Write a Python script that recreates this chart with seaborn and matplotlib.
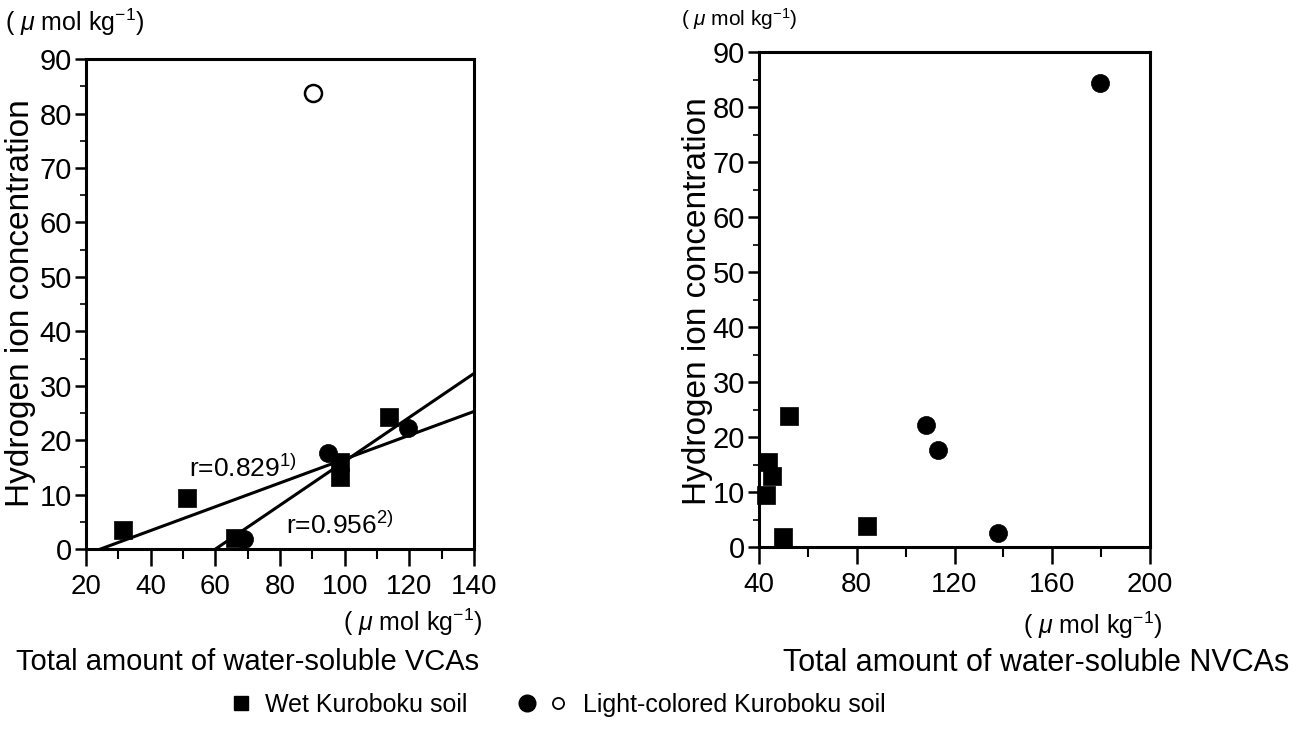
import matplotlib
matplotlib.use("Agg")
import matplotlib.pyplot as plt
from matplotlib.lines import Line2D
from matplotlib.legend_handler import HandlerTuple
import seaborn as sns

# Left panel: total water-soluble volatile carboxylic acids (VCAs)
vca_wet_x = [31.5, 51.2, 66.0, 98.5, 98.7, 113.8]
vca_wet_h = [3.5, 9.4, 2.0, 16.0, 13.3, 24.2]
vca_light_x = [68.8, 94.9, 119.6]
vca_light_h = [1.8, 17.6, 22.2]
vca_outlier_x = [90.2]
vca_outlier_h = [83.7]

# Right panel: total water-soluble non-volatile carboxylic acids (NVCAs)
nvca_wet_x = [52.4, 43.8, 45.2, 43.1, 49.7, 84.3]
nvca_wet_h = [23.9, 15.4, 13.0, 9.4, 1.8, 3.9]
nvca_light_x = [179.5, 108.3, 113.4, 137.9]
nvca_light_h = [84.3, 22.1, 17.7, 2.6]

r_labels = ["r=0.829$^{1)}$", "r=0.956$^{2)}$"]
vca_ticks = [20, 40, 60, 80, 100, 120, 140]
nvca_ticks = [40, 80, 120, 160, 200]
h_ticks = [0, 10, 20, 30, 40, 50, 60, 70, 80, 90]

unit = r"( $\mathit{\mu}$ mol kg$^{\mathrm{-1}}$)"
ylab = "Hydrogen ion concentration"
legend_labels = ["Wet Kuroboku soil", "Light-colored Kuroboku soil"]

sns.set_theme(style="ticks")
fam = "Liberation Sans"
plt.rcParams["font.family"] = [fam, "DejaVu Sans"]
plt.rcParams["mathtext.fontset"] = "custom"
plt.rcParams["mathtext.rm"] = fam
plt.rcParams["mathtext.it"] = fam + ":italic"
for key in ("text.color", "axes.labelcolor", "xtick.color", "ytick.color",
            "axes.edgecolor"):
    plt.rcParams[key] = "black"

FS = 20
LW = 2.2

fig = plt.figure(figsize=(13.13, 7.31), dpi=100)
ax1 = fig.add_axes([0.0655, 0.249, 0.2955, 0.670])
ax2 = fig.add_axes([0.578, 0.2517, 0.298, 0.677])


def style_axes(ax, xlim, xticks, xminor):
    ax.set_xlim(*xlim)
    ax.set_ylim(0, 90)
    ax.set_xticks(xticks)
    ax.set_xticks(xminor, minor=True)
    ax.set_yticks(h_ticks)
    ax.set_yticks([v + 5 for v in h_ticks[:-1]], minor=True)
    for s in ax.spines.values():
        s.set_visible(True)
        s.set_linewidth(LW)
        s.set_color("black")
    ax.tick_params(axis="x", which="major", length=12, width=1.8, labelsize=FS,
                   direction="out", pad=6)
    ax.tick_params(axis="x", which="minor", length=7, width=1.5, direction="out")
    ax.tick_params(axis="y", which="major", length=8, width=1.8, labelsize=FS + 1,
                   direction="out", pad=2)
    ax.tick_params(axis="y", which="minor", length=4, width=1.2, direction="out")
    ax.set_facecolor("white")


# ---- left panel
style_axes(ax1, (20, 140), vca_ticks, [30, 50, 70, 90, 110, 130])
sns.regplot(x=vca_wet_x, y=vca_wet_h, ax=ax1, scatter=False, ci=None,
            truncate=False, color="black", line_kws=dict(lw=LW))
sns.regplot(x=vca_light_x, y=vca_light_h, ax=ax1, scatter=False, ci=None,
            truncate=False, color="black", line_kws=dict(lw=LW))
sns.scatterplot(x=vca_wet_x, y=vca_wet_h, ax=ax1, marker="s", s=150,
                color="black", edgecolor="black", linewidth=0.5, zorder=5, legend=False)
sns.scatterplot(x=vca_light_x, y=vca_light_h, ax=ax1, marker="o", s=170,
                color="black", edgecolor="black", linewidth=0.5, zorder=5, legend=False)
sns.scatterplot(x=vca_outlier_x, y=vca_outlier_h, ax=ax1, marker="o", s=150,
                facecolor="white", edgecolor="black", linewidth=1.8, zorder=5, legend=False)
ax1.set_xlim(20, 140)
ax1.set_ylim(0, 90)
ax1.text(52, 14.8, r_labels[0], fontsize=FS - 1, va="center", ha="left")
ax1.text(82, 4.4, r_labels[1], fontsize=FS - 1, va="center", ha="left")

# ---- right panel
style_axes(ax2, (40, 200), nvca_ticks, [60, 100, 140, 180])
sns.scatterplot(x=nvca_wet_x, y=nvca_wet_h, ax=ax2, marker="s", s=150,
                color="black", edgecolor="black", linewidth=0.5, zorder=5, legend=False)
sns.scatterplot(x=nvca_light_x, y=nvca_light_h, ax=ax2, marker="o", s=170,
                color="black", edgecolor="black", linewidth=0.5, zorder=5, legend=False)
ax2.set_xlim(40, 200)
ax2.set_ylim(0, 90)

for ax in (ax1, ax2):
    ax.set_xlabel("")
    ax.set_ylabel("")
    for c in ax.collections:
        c.set_clip_on(False)

# ---- axis titles and units
fig.text(0.0155, 0.585, ylab, fontsize=24, rotation=90, ha="center", va="center")
fig.text(0.531, 0.588, ylab, fontsize=24, rotation=90, ha="center", va="center")
fig.text(0.004, 0.970, unit, fontsize=18, ha="left", va="center")
fig.text(0.519, 0.974, unit, fontsize=15, ha="left", va="center")
fig.text(0.367, 0.149, unit, fontsize=18, ha="right", va="center")
fig.text(0.885, 0.145, unit, fontsize=18, ha="right", va="center")
fig.text(0.1885, 0.095, "Total amount of water-soluble VCAs", fontsize=21,
         ha="center", va="center")
fig.text(0.7895, 0.093, "Total amount of water-soluble NVCAs", fontsize=22,
         ha="center", va="center")

# ---- legend (two entries placed side by side)
h_sq = Line2D([], [], marker="s", ls="none", color="black", markersize=10.5)
h_ci = Line2D([], [], marker="o", ls="none", color="black", markersize=12)
h_op = Line2D([], [], marker="o", ls="none", markerfacecolor="white",
              markeredgecolor="black", markeredgewidth=1.3, markersize=8)
LEG_FS = 18
common = dict(loc="center left", frameon=False, fontsize=LEG_FS, borderpad=0,
              borderaxespad=0)
fig.legend(handles=[h_sq], labels=[legend_labels[0]],
           bbox_to_anchor=(231 / 1313, 0.036), handlelength=0.8,
           handletextpad=0.56, **common)
fig.legend(handles=[(h_ci, h_op)], labels=[legend_labels[1]],
           handler_map={tuple: HandlerTuple(ndivide=None, pad=0.44)},
           bbox_to_anchor=(517 / 1313, 0.036), handlelength=2.04,
           handletextpad=0.6, **common)

fig.savefig("out.png", dpi=100, facecolor="white")
